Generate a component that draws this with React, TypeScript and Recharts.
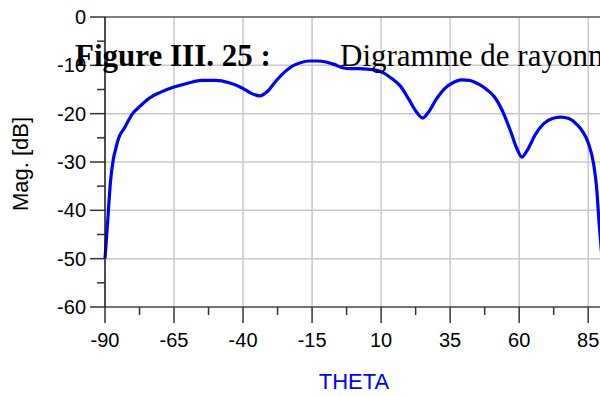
import { LineChart, Line, XAxis, YAxis, ReferenceLine } from "recharts";

// radiation pattern
const theta = [
  -90, -89, -88, -87, -86, -85, -83, -80, -77, -74, -70, -65, -60, -55, -50,
  -45, -40, -37, -34, -31, -28, -25, -22, -19, -16, -13, -10, -7, -4, -1, 2, 5,
  8, 11, 14, 17, 20, 23, 25, 27, 30, 33, 36, 39, 42, 45, 48, 51, 54, 57, 59, 61,
  63, 66, 69, 72, 75, 78, 81, 83, 85, 87, 88, 89, 90,
];
const mag = [
  -50, -42, -34, -29.5, -27, -25, -23, -20, -18.3, -16.8, -15.6, -14.5, -13.7,
  -13.1, -13.1, -13.6, -14.8, -15.8, -16.3, -15.3, -13.2, -11.4, -10.1, -9.4,
  -9.1, -9.1, -9.3, -9.8, -10.5, -10.7, -10.7, -10.8, -11.0, -11.6, -12.8,
  -14.3, -17.0, -19.8, -20.9, -19.8, -17.0, -14.8, -13.6, -13.0, -13.1, -13.8,
  -14.9, -16.5, -19.5, -23.8, -27.0, -29.0, -27.5, -24.2, -22.0, -21.0, -20.7,
  -21.0, -22.3, -23.7, -26.0, -30.5, -35, -43, -50,
];

const xMajor = [-90, -65, -40, -15, 10, 35, 60, 85];
const xMinor = [-77.5, -52.5, -27.5, -2.5, 22.5, 47.5, 72.5];
const yMajor = [-60, -50, -40, -30, -20, -10, 0];
const yMinor = [-55, -45, -35, -25, -15, -5];

const data = theta.map((t, i) => ({ theta: t, mag: mag[i] }));

const FONT = "'Liberation Sans', Arial, sans-serif";
const SERIF = "'Liberation Serif', 'Times New Roman', serif";

function XTick(props: any) {
  const { x, y, payload } = props;
  const major = xMajor.includes(payload.value);
  return (
    <g>
      <line x1={x} x2={x} y1={y} y2={y + (major ? 16 : 8)} stroke="#333" strokeWidth={1.5} />
      {major && (
        <text x={x} y={y + 40} textAnchor="middle" fontSize={20} fontFamily={FONT} fill="#000">
          {payload.value}
        </text>
      )}
    </g>
  );
}

function YTick(props: any) {
  const { x, y, payload } = props;
  const major = yMajor.includes(payload.value);
  return (
    <g>
      <line x1={x - (major ? 15 : 8)} x2={x} y1={y} y2={y} stroke="#333" strokeWidth={1.5} />
      {major && (
        <text x={x - 19} y={y + 7} textAnchor="end" fontSize={20} fontFamily={FONT} fill="#000">
          {payload.value}
        </text>
      )}
    </g>
  );
}

export default function App() {
  return (
    <div
      style={{
        position: "fixed",
        left: 0,
        top: 0,
        width: 600,
        height: 396,
        overflow: "hidden",
        background: "#fff",
      }}
    >
      <LineChart
        width={620}
        height={396}
        data={data}
        margin={{ top: 17, right: 18, bottom: 0, left: 0 }}
      >
        <XAxis
          dataKey="theta"
          type="number"
          domain={[-90, 90]}
          ticks={[...xMajor, ...xMinor].sort((a, b) => a - b)}
          interval={0}
          height={89}
          tickSize={0}
          tickMargin={0}
          tickLine={false}
          tick={<XTick />}
          axisLine={{ stroke: "#444", strokeWidth: 1.5 }}
        />
        <YAxis
          type="number"
          domain={[-60, 0]}
          ticks={[...yMajor, ...yMinor].sort((a, b) => a - b)}
          interval={0}
          width={105}
          tickSize={0}
          tickMargin={0}
          tickLine={false}
          tick={<YTick />}
          axisLine={{ stroke: "#111", strokeWidth: 1.5 }}
        />
        {xMajor.slice(1).map((v) => (
          <ReferenceLine key={"x" + v} x={v} stroke="#c8c8c8" strokeWidth={1.5} />
        ))}
        {yMajor.slice(1, -1).map((v) => (
          <ReferenceLine key={"y" + v} y={v} stroke="#c8c8c8" strokeWidth={1.5} />
        ))}
        <ReferenceLine y={0} stroke="#555" strokeWidth={1.5} />
        <Line
          dataKey="mag"
          type="monotone"
          stroke="#0000ff"
          strokeWidth={3.2}
          dot={false}
          isAnimationActive={false}
        />
      </LineChart>
      <svg
        width={600}
        height={396}
        style={{ position: "absolute", left: 0, top: 0, pointerEvents: "none" }}
      >
        <text
          transform="translate(28,164) rotate(-90)"
          textAnchor="middle"
          fontSize={22}
          fontFamily={FONT}
          fill="#000"
        >
          Mag. [dB]
        </text>
        <text x={354} y={389} textAnchor="middle" fontSize={22} fontFamily={FONT} fill="#0000ff">
          THETA
        </text>
        <text x={75} y={66} fontSize={31} fontWeight="bold" fontFamily={SERIF} fill="#000">
          Figure III. 25 :
        </text>
        <text x={340} y={66} fontSize={31} fontFamily={SERIF} fill="#000">
          Digramme de rayonnement
        </text>
      </svg>
    </div>
  );
}
